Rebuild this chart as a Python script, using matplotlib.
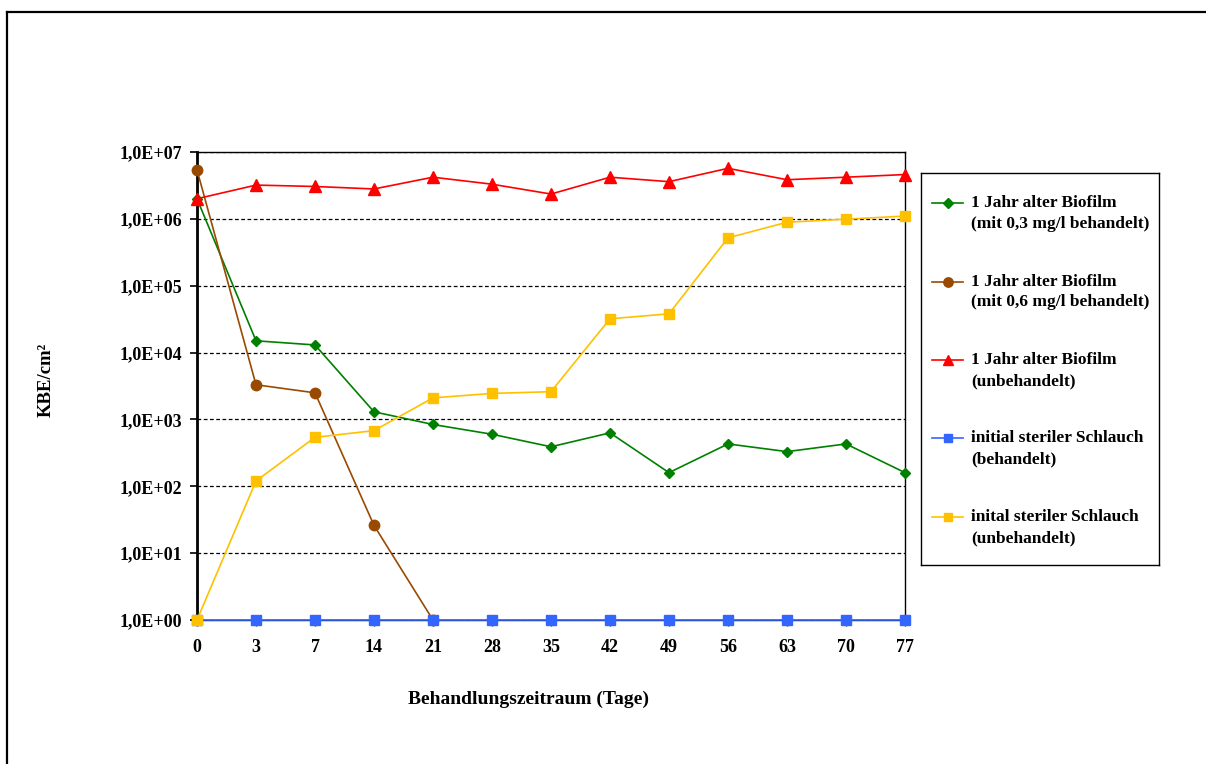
import numpy as np
import matplotlib
matplotlib.use("Agg")
import matplotlib.pyplot as plt
from matplotlib.lines import Line2D
from matplotlib.ticker import FixedLocator, FixedFormatter, NullLocator

# ---- data -------------------------------------------------------------
days = ["0", "3", "7", "14", "21", "28", "35", "42", "49", "56", "63", "70", "77"]

biofilm_03 = [2.0e6, 1.5e4, 1.3e4, 1.3e3, 8.4e2, 6.0e2, 3.9e2, 6.3e2, 1.6e2, 4.3e2, 3.3e2, 4.3e2, 1.6e2]
biofilm_06 = [5.4e6, 3.3e3, 2.5e3, 26, 1, np.nan, np.nan, np.nan, np.nan, np.nan, np.nan, np.nan, np.nan]
biofilm_untreated = [2.0e6, 3.2e6, 3.05e6, 2.8e6, 4.2e6, 3.3e6, 2.35e6, 4.2e6, 3.6e6, 5.7e6, 3.85e6, 4.2e6, 4.6e6]
sterile_treated = [1, 1, 1, 1, 1, 1, 1, 1, 1, 1, 1, 1, 1]
sterile_untreated = [1, 1.2e2, 5.4e2, 6.8e2, 2.1e3, 2.45e3, 2.6e3, 3.2e4, 3.8e4, 5.2e5, 8.9e5, 9.9e5, 1.1e6]

y_ticks = [1e0, 1e1, 1e2, 1e3, 1e4, 1e5, 1e6, 1e7]
y_ticklabels = ["1,0E+00", "1,0E+01", "1,0E+02", "1,0E+03",
                "1,0E+04", "1,0E+05", "1,0E+06", "1,0E+07"]

series_labels = [
    ("1 Jahr alter Biofilm", "(mit 0,3 mg/l behandelt)"),
    ("1 Jahr alter Biofilm", "(mit 0,6 mg/l behandelt)"),
    ("1 Jahr alter Biofilm", "(unbehandelt)"),
    ("initial steriler Schlauch", "(behandelt)"),
    ("inital steriler Schlauch", "(unbehandelt)"),
]

# ---- styling ----------------------------------------------------------
FONT = "Liberation Serif"
plt.rcParams["font.family"] = [FONT, "DejaVu Serif"]
plt.rcParams["font.weight"] = "bold"

W, H = 1206, 764
fig = plt.figure(figsize=(W / 100, H / 100), dpi=100)


def fx(px):
    return px / W


def fy(py):
    return 1 - py / H


# outer frame (top and left edges)
fig.add_artist(Line2D([fx(7), fx(1206)], [fy(12), fy(12)], color="black", lw=1.6))
fig.add_artist(Line2D([fx(7), fx(7)], [fy(12), fy(764)], color="black", lw=1.6))

# ---- main axes --------------------------------------------------------
left, right, top, bottom = 197, 905, 152, 620
ax = fig.add_axes([fx(left), fy(bottom), fx(right - left), (bottom - top) / H])

x = np.arange(len(days))

styles = [
    dict(color="#008000", marker="D", ms=5.5, zorder=3),
    dict(color="#9A4A00", marker="o", ms=7.5, zorder=4),
    dict(color="#FF0000", marker="^", ms=8, zorder=7),
    dict(color="#3366FF", marker="s", ms=6.5, zorder=5),
    dict(color="#FFC000", marker="s", ms=6.5, zorder=6),
]
all_series = [biofilm_03, biofilm_06, biofilm_untreated, sterile_treated, sterile_untreated]

for vals, st in zip(all_series, styles):
    ax.plot(x, vals, color=st["color"], lw=1.2, marker=st["marker"], ms=st["ms"],
            mec=st["color"], mfc=st["color"], zorder=st["zorder"], clip_on=False)

ax.set_yscale("log")
ax.set_ylim(1, 1e7)
ax.set_xlim(0, len(days) - 1)

ax.yaxis.set_major_locator(FixedLocator(y_ticks))
ax.yaxis.set_major_formatter(FixedFormatter(y_ticklabels))
ax.yaxis.set_minor_locator(NullLocator())
ax.set_xticks(x)
ax.set_xticklabels(days)

ax.grid(axis="y", which="major", color="black", ls=(0, (3, 2)), lw=0.9)
ax.set_axisbelow(True)

for side in ["top", "right", "bottom"]:
    ax.spines[side].set_color("black")
    ax.spines[side].set_linewidth(1.0)
ax.spines["left"].set_color("black")
ax.spines["left"].set_linewidth(2.0)

ax.tick_params(axis="y", direction="out", length=5, width=1.2, pad=6,
               labelsize=13)
ax.tick_params(axis="x", direction="out", length=4, width=1.0, pad=10,
               labelsize=13)
for lab in ax.get_xticklabels() + ax.get_yticklabels():
    lab.set_fontweight("bold")

fig.text(fx(528), fy(699), "Behandlungszeitraum (Tage)", ha="center", va="center",
         fontsize=14, fontweight="bold")
fig.text(fx(46), fy(380), "KBE/cm²", ha="center", va="center", rotation=90,
         fontsize=13.5, fontweight="bold")

# ---- legend box -------------------------------------------------------
lx0, ly0, lx1, ly1 = 921, 173, 1159, 565
lax = fig.add_axes([fx(lx0), fy(ly1), fx(lx1 - lx0), (ly1 - ly0) / H])
lax.set_xlim(0, lx1 - lx0)
lax.set_ylim(ly1 - ly0, 0)
lax.set_xticks([])
lax.set_yticks([])
for sp in lax.spines.values():
    sp.set_color("black")
    sp.set_linewidth(1.0)

for i, ((l1, l2), st) in enumerate(zip(series_labels, styles)):
    yy = 30 + i * 78.5
    lax.plot([11, 42], [yy, yy], color=st["color"], lw=1.2)
    lax.plot([26.5], [yy], color=st["color"], marker=st["marker"],
             ms=st["ms"] * 0.9, mec=st["color"], mfc=st["color"])
    lax.text(50, yy, l1, ha="left", va="center", fontsize=12.5, fontweight="bold")
    lax.text(50, yy + 21, l2, ha="left", va="center", fontsize=12.5, fontweight="bold")

fig.savefig("out.png", dpi=100)
